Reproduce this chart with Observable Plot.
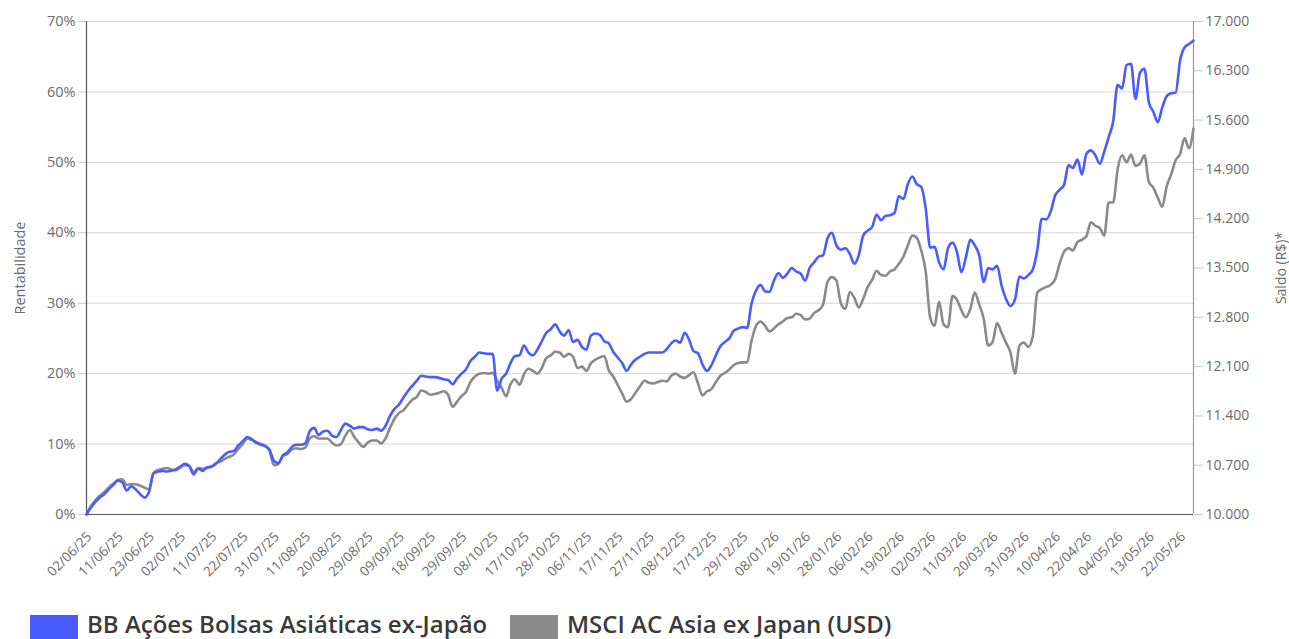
<!DOCTYPE html>
<html>
<head>
<meta charset="utf-8">
<script src="https://cdn.jsdelivr.net/npm/d3@7"></script>
<script src="https://cdn.jsdelivr.net/npm/@observablehq/plot@0.6"></script>
<style>
  html, body { margin: 0; padding: 0; background: #fff; }
  body { width: 1289px; height: 639px; overflow: hidden; position: relative; font-family: "Open Sans", sans-serif; }
  #chart { position: absolute; left: 0; top: 0; }
  .legend-item { position: absolute; top: 615px; display: flex; align-items: flex-start; }
  .swatch { width: 48px; height: 26px; margin-right: 9px; }
  .legend-text { font-size: 24px; font-weight: 600; color: #3a3a3a; line-height: 26px; white-space: nowrap; margin-top: -4px; }
</style>
</head>
<body>
<div id="chart"></div>
<div class="legend-item" style="left:30px"><div class="swatch" id="sw0"></div><div class="legend-text" id="lg0"></div></div>
<div class="legend-item" style="left:510px"><div class="swatch" id="sw1"></div><div class="legend-text" id="lg1"></div></div>
<script>
// ---------- data ----------
const seriesNames = ["BB Ações Bolsas Asiáticas ex-Japão", "MSCI AC Asia ex Japan (USD)"];
const seriesColors = ["#4a5cff", "#8a8a8a"];

const tickLabels = ["02/06/25","11/06/25","23/06/25","02/07/25","11/07/25","22/07/25","31/07/25","11/08/25","20/08/25","29/08/25","09/09/25","18/09/25","29/09/25","08/10/25","17/10/25","28/10/25","06/11/25","17/11/25","27/11/25","08/12/25","17/12/25","29/12/25","08/01/26","19/01/26","28/01/26","06/02/26","19/02/26","02/03/26","11/03/26","20/03/26","31/03/26","10/04/26","22/04/26","04/05/26","13/05/26","22/05/26"];
const tickEvery = 7; // trading days between date labels

// Rentabilidade (%) per trading day
const fundReturn = [
  0.0,1.0,1.8,2.4,2.9,3.6,4.2,4.8,4.6,3.4,
  4.0,3.6,2.9,2.4,3.2,5.8,6.1,6.2,6.1,6.2,
  6.4,6.8,7.2,6.9,5.7,6.5,6.2,6.7,6.8,7.2,
  7.9,8.5,8.9,9.0,9.8,10.4,11.0,10.7,10.2,9.9,
  9.7,9.2,7.6,7.3,8.4,8.8,9.6,9.9,9.9,10.1,
  11.8,12.3,11.3,11.8,11.9,11.2,11.0,12.0,12.9,12.6,
  12.2,12.4,12.4,12.1,12.0,12.2,11.9,12.6,14.0,15.0,
  15.6,16.6,17.5,18.3,19.0,19.7,19.6,19.5,19.5,19.4,
  19.2,19.1,18.5,19.3,20.0,20.6,21.8,22.4,23.0,22.9,
  22.8,22.8,17.6,19.3,20.0,21.5,22.5,22.6,24.0,23.0,
  22.6,23.4,24.6,25.8,26.3,27.0,26.0,25.4,26.2,24.5,
  24.8,23.8,23.4,25.4,25.7,25.5,24.6,24.3,23.1,22.3,
  21.5,20.4,21.3,22.0,22.4,22.8,23.0,23.0,23.0,23.0,
  23.5,24.3,24.7,24.4,25.8,24.8,23.2,22.9,21.3,20.4,
  21.2,22.6,23.9,24.5,25.0,26.1,26.4,26.6,26.5,30.0,
  31.8,32.6,31.7,31.6,33.2,34.3,33.6,34.2,35.0,34.5,
  34.2,33.2,35.0,35.8,36.6,36.8,39.2,40.0,38.2,37.6,
  37.8,37.0,35.6,36.8,39.6,40.3,40.8,42.6,41.8,42.4,
  42.5,42.8,45.2,44.8,46.9,48.0,46.9,46.5,43.5,37.9,
  38.0,35.8,34.8,37.8,38.6,37.3,34.4,36.5,39.0,38.2,
  36.8,33.0,35.0,34.8,35.3,32.5,30.6,29.6,30.5,33.8,
  33.5,34.0,34.8,37.5,42.0,41.9,43.0,45.3,46.1,46.8,
  49.6,49.2,50.4,48.3,51.2,51.7,51.0,49.8,51.5,53.6,
  55.8,61.0,60.5,63.8,64.0,59.0,62.7,63.3,58.5,57.2,
  55.7,57.8,59.4,59.8,59.9,64.5,66.3,66.8,67.3
];
const benchReturn = [
  0.0,1.2,2.0,2.7,3.2,3.8,4.4,4.9,5.0,4.2,
  4.3,4.3,4.1,3.8,3.6,5.9,6.3,6.5,6.6,6.4,
  6.3,6.7,7.0,6.9,6.0,6.6,6.5,6.6,6.8,7.3,
  7.5,7.9,8.2,8.5,9.3,10.0,10.8,10.6,10.3,10.0,
  9.8,9.0,7.0,7.2,8.3,8.6,9.2,9.4,9.3,9.5,
  10.8,11.1,10.8,10.8,10.8,10.2,9.8,10.0,11.2,12.0,
  11.0,10.2,9.6,10.2,10.5,10.5,10.1,10.8,12.3,13.6,
  14.4,14.8,15.6,16.3,16.7,17.6,17.4,17.0,17.1,17.3,
  17.5,17.0,15.3,16.0,16.8,17.4,18.8,19.6,20.0,20.1,
  20.0,20.1,19.0,18.0,16.8,18.5,19.2,18.4,19.9,20.7,
  20.4,20.0,20.8,22.2,22.6,23.1,23.0,22.4,22.8,22.4,
  20.8,21.0,20.4,21.5,22.0,22.3,22.5,20.5,19.6,18.4,
  17.2,16.0,16.4,17.3,18.2,19.0,18.7,18.6,18.8,19.0,
  18.9,19.7,20.0,19.6,19.4,19.8,20.2,18.6,16.9,17.5,
  17.8,18.8,19.7,20.1,20.6,21.2,21.5,21.6,21.6,24.7,
  26.8,27.4,26.8,26.0,26.4,27.0,27.4,27.9,28.0,28.5,
  28.3,27.7,27.8,28.6,29.0,29.8,33.0,33.7,33.2,30.0,
  29.2,31.6,30.8,29.4,30.6,32.3,33.3,34.6,34.0,33.9,
  34.5,34.8,35.6,36.6,38.2,39.6,39.3,37.5,34.5,28.0,
  26.8,30.2,27.0,26.6,31.0,30.5,29.0,28.0,29.2,31.5,
  29.8,27.8,24.0,24.5,27.2,25.8,24.4,23.0,20.0,24.0,
  24.4,23.8,25.3,31.5,32.0,32.3,32.6,33.4,35.6,37.3,
  37.8,37.5,38.7,39.0,39.5,41.5,41.0,40.7,39.6,44.3,
  44.3,49.0,51.0,50.0,51.1,49.5,49.8,51.0,47.2,46.4,
  45.0,43.7,46.6,48.3,50.3,51.2,53.4,52.0,54.8
];

const leftTicks = [0, 10, 20, 30, 40, 50, 60, 70];
const rightTicks = [10000, 10700, 11400, 12100, 12800, 13500, 14200, 14900, 15600, 16300, 17000];
const initialBalance = 10000;

// ---------- build ----------
const rows = [];
benchReturn.forEach((v, i) => rows.push({day: i, value: v, series: seriesNames[1]}));
fundReturn.forEach((v, i) => rows.push({day: i, value: v, series: seriesNames[0]}));
const lastDay = fundReturn.length - 1;

const br = d3.formatLocale({decimal: ",", thousands: ".", grouping: [3], currency: ["R$", ""]});
const fmtSaldo = br.format(",.0f");
const toPct = v => (v / initialBalance - 1) * 100;
const toSaldo = p => Math.round(initialBalance * (1 + p / 100));

const chart = Plot.plot({
  width: 1289,
  height: 605,
  marginTop: 21,
  marginBottom: 91,
  marginLeft: 86,
  marginRight: 96,
  style: {fontFamily: "'Open Sans', sans-serif", fontSize: "14px", color: "#6b6b6b", background: "transparent"},
  x: {domain: [0, lastDay]},
  y: {domain: [0, 70]},
  color: {domain: seriesNames, range: seriesColors},
  marks: [
    Plot.ruleY(leftTicks.filter(d => d > 0), {stroke: "#d6d6d6", strokeWidth: 1}),
    Plot.axisY({
      anchor: "left", ticks: leftTicks, tickFormat: d => d + "%",
      tickSize: 8, tickPadding: 3, stroke: "#c8c8c8", fill: "#6b6b6b", fontSize: 14.5,
      label: "Rentabilidade", labelAnchor: "center", labelOffset: 72, labelArrow: "none"
    }),
    Plot.axisY({
      anchor: "right", ticks: rightTicks.map(toPct), tickFormat: d => fmtSaldo(toSaldo(d)),
      tickSize: 9, tickPadding: 3, stroke: "#c8c8c8", fill: "#6b6b6b", fontSize: 14,
      label: "Saldo (R$)*", labelAnchor: "center", labelOffset: 92, labelArrow: "none"
    }),
    Plot.axisX({
      ticks: tickLabels.map((_, k) => k * tickEvery),
      tickFormat: d => tickLabels[Math.round(d / tickEvery)],
      tickRotate: -45, tickSize: 0, tickPadding: 20, dx: 3,
      fill: "#6b6b6b", fontSize: 13.5, label: null
    }),
    Plot.ruleX([lastDay], {stroke: "#9a9a9a", strokeWidth: 1.2}),
    Plot.ruleX([0], {stroke: "#555", strokeWidth: 1.2}),
    Plot.ruleY([0], {stroke: "#555", strokeWidth: 1.2}),
    Plot.line(rows, {
      x: "day", y: "value", z: "series", stroke: "series",
      strokeWidth: 2.6, curve: "monotone-x", strokeLinejoin: "round"
    })
  ]
});
document.getElementById("chart").appendChild(chart);

// legend
seriesNames.forEach((name, k) => {
  document.getElementById("sw" + k).style.background = seriesColors[k];
  document.getElementById("lg" + k).textContent = name;
});
</script>
</body>
</html>
